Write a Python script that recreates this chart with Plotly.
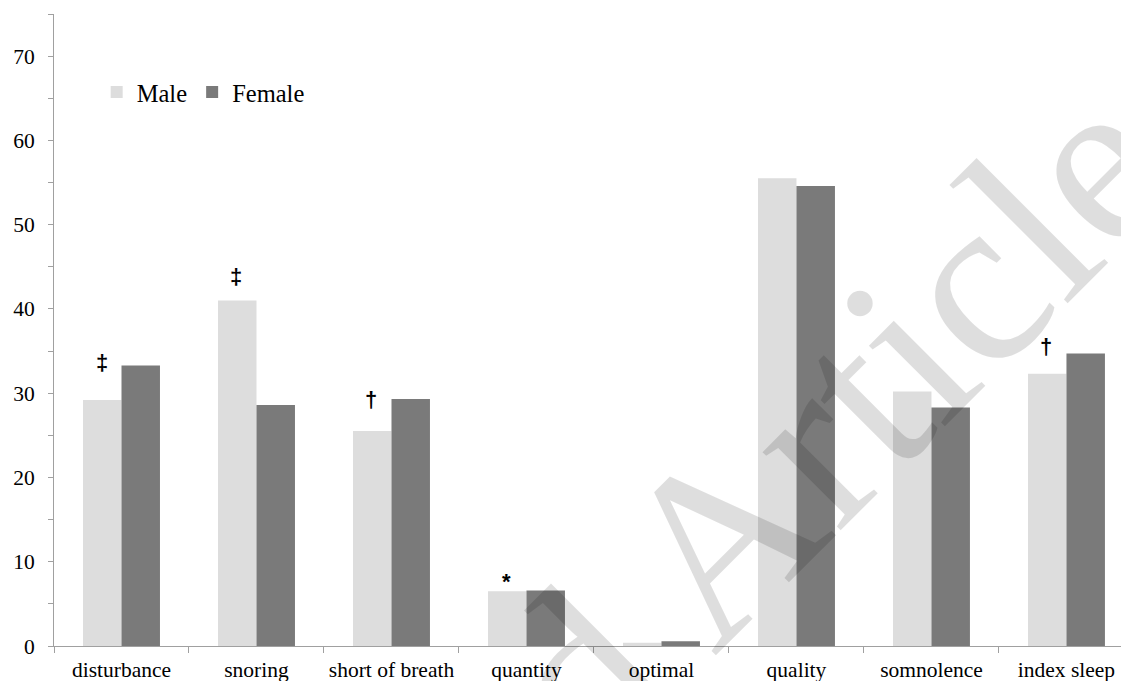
import plotly.graph_objects as go

categories = ["disturbance", "snoring", "short of breath", "quantity",
              "optimal", "quality", "somnolence", "index sleep"]
male = [29.2, 41.0, 25.5, 6.5, 0.4, 55.5, 30.2, 32.3]
female = [33.3, 28.6, 29.3, 6.6, 0.55, 54.6, 28.3, 34.7]
marks = ["‡", "‡", "†", "*", "", "", "", "†"]
mark_y = [33.6, 43.8, 29.2, 8.3, None, None, None, 35.5]
y_ticks = [0, 10, 20, 30, 40, 50, 60, 70]
watermark = "Accepted Article"

MALE_C = "#dddddd"
FEMALE_C = "#7a7a7a"
AXIS_C = "#a0a0a0"
SERIF = "Liberation Serif, Times New Roman, serif"

fig = go.Figure()
fig.add_trace(go.Bar(x=categories, y=male, name="Male", marker_color=MALE_C,
                     marker_line_width=0))
fig.add_trace(go.Bar(x=categories, y=female, name="Female", marker_color=FEMALE_C,
                     marker_line_width=0))

annotations = []
for c, m, my in zip(categories, marks, mark_y):
    if not m:
        continue
    annotations.append(dict(
        x=c, y=my, xref="x", yref="y", text=m, showarrow=False,
        xshift=-20, yshift=-5 if m == "*" else 0,
        xanchor="center", yanchor="middle",
        font=dict(family="Liberation Sans, Arial, sans-serif", size=22,
                  color="black", weight="bold"),
    ))

annotations.append(dict(
    x=0.470, y=-0.087, xref="paper", yref="paper", text=watermark,
    showarrow=False, textangle=-45, xanchor="center", yanchor="middle",
    font=dict(family=SERIF, size=241, color="rgba(0,0,0,0.13)"),
))

fig.update_layout(
    width=1121, height=681,
    margin=dict(l=54, r=0, t=14, b=35, autoexpand=False),
    paper_bgcolor="white", plot_bgcolor="white",
    barmode="group", bargap=0.43, bargroupgap=0,
    font=dict(family=SERIF, size=21.5, color="black"),
    showlegend=True,
    legend=dict(orientation="h", x=0.04, y=0.912, xanchor="left", yanchor="top",
                font=dict(family=SERIF, size=24.5, color="black"),
                bgcolor="rgba(0,0,0,0)", itemwidth=30, tracegroupgap=0),
    annotations=annotations,
)

fig.update_xaxes(
    type="category", range=[-0.5, 7.404], automargin=False,
    showline=True, linecolor=AXIS_C, linewidth=1,
    ticks="outside", tickson="boundaries", ticklen=6, tickcolor=AXIS_C,
    showgrid=False, zeroline=False, ticklabelstandoff=4,
    tickfont=dict(family=SERIF, size=21.5, color="black"),
)
fig.update_yaxes(
    range=[0, 75], tickmode="array", tickvals=y_ticks, automargin=False,
    showline=True, linecolor=AXIS_C, linewidth=1,
    ticks="outside", ticklen=5, tickcolor=AXIS_C,
    minor=dict(dtick=5, tick0=0, ticks="outside", ticklen=5, tickcolor=AXIS_C,
               showgrid=False),
    showgrid=False, zeroline=False, ticklabelstandoff=9,
    tickfont=dict(family=SERIF, size=21.5, color="black"),
)

fig.write_html("out.html",
               config={"displayModeBar": False},
               post_script="document.body.style.margin='0';"
                           "document.body.style.overflow='hidden';")
